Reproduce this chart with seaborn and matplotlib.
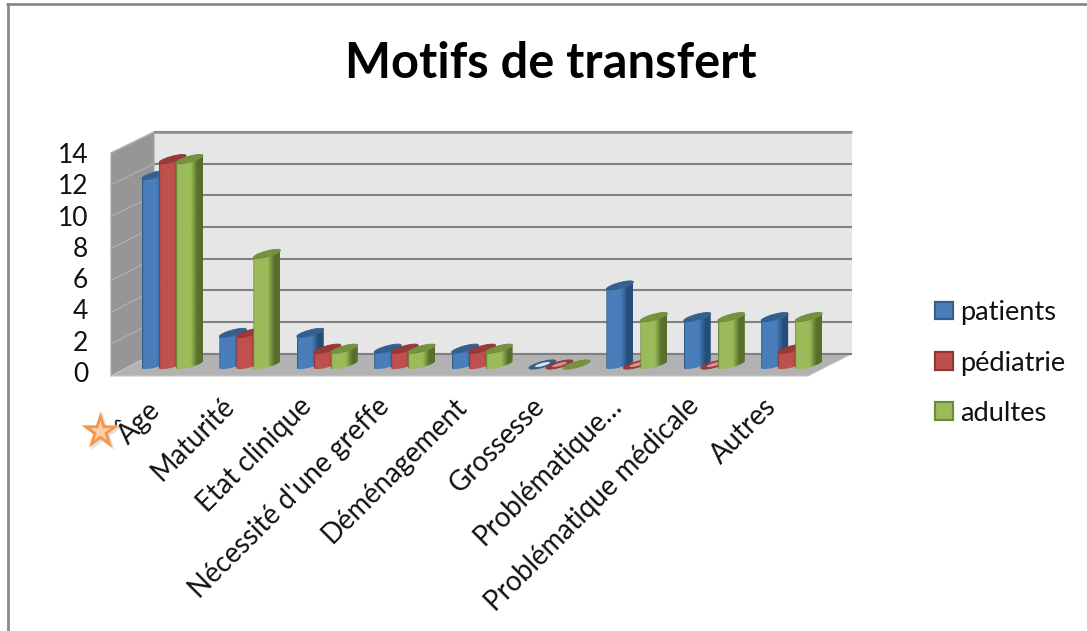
import numpy as np
import pandas as pd
import matplotlib
matplotlib.use("Agg")
import matplotlib.pyplot as plt
from matplotlib.colors import LinearSegmentedColormap
from matplotlib.patches import Polygon, Patch
from matplotlib.transforms import ScaledTranslation
import seaborn as sns

categories = ["Âge", "Maturité", "Etat clinique", "Nécessité d'une greffe", "Déménagement",
              "Grossesse", "Problématique…", "Problématique médicale", "Autres"]
patients = [12, 2, 2, 1, 1, 0, 5, 3, 3]
pediatrie = [13, 2, 1, 1, 1, 0, 0, 0, 1]
adultes = [13, 7, 1, 1, 1, 0, 3, 3, 3]
series_names = ["patients", "pédiatrie", "adultes"]
y_ticks = [0, 2, 4, 6, 8, 10, 12, 14]

W, H = 1087, 631
main_colors = ["#4a7ebb", "#c0504d", "#9bbb59"]
dark_colors = ["#264d7a", "#7e2f2d", "#566f2a"]
cap_colors = ["#33608f", "#98393a", "#76933c"]
edge_colors = ["#385d8a", "#8c3836", "#71893f"]

sns.set_theme(style="white")
plt.rcParams["font.family"] = ["Lato", "DejaVu Sans"]

fig = plt.figure(figsize=(W / 100, H / 100), dpi=100, facecolor="white")


def ax_at(left, top, right, bottom, **kw):
    return fig.add_axes([left / W, 1 - bottom / H, (right - left) / W, (bottom - top) / H], **kw)


# decoration layer, measured in image pixels
deco = ax_at(0, 0, W, H)
deco.set_xlim(0, W)
deco.set_ylim(H, 0)
deco.axis("off")
deco.plot([6, W], [4.3, 4.3], color="#858585", lw=1.9, solid_capstyle="butt")
deco.plot([7.5, 7.5], [3, H], color="#8a8a8a", lw=2.0, solid_capstyle="butt")

FL, FR, FB, FT = 111, 808, 376, 153   # front plane
BL, BR, BB, BT = 154, 852, 353.5, 132  # back plane
deco.add_patch(Polygon([(BL, BT), (BR, BT), (BR, BB), (BL, BB)], fc="#e6e6e6", ec="none"))
deco.add_patch(Polygon([(FL, FT), (BL, BT), (BL, BB), (FL, FB)], fc="#969696", ec="#a6a6a6", lw=0.8))
deco.add_patch(Polygon([(FL, FB), (BL, BB), (BR, BB), (FR, FB)], fc="#b2b2b2", ec="#c4c4c4", lw=0.8))
for v in y_ticks:
    f = v / 14
    yb = BB + (BT - BB) * f
    yf = FB + (FT - FB) * f
    deco.plot([BL, BR], [yb, yb], color="#808080", lw=1.5, solid_capstyle="butt")
    if v > 0:
        deco.plot([FL, BL], [yf, yb], color="#b0b0b0", lw=0.9)
deco.plot([BL, BR], [BT, BT], color="#8c8c8c", lw=1.8, solid_capstyle="butt")

# axis with the tick labels
ax_t = ax_at(111, 153, 808, 372)
ax_t.patch.set_alpha(0)
ax_t.set_xlim(-0.5, 8.5)
ax_t.set_ylim(0, 14)
ax_t.set_yticks(y_ticks)
ax_t.set_yticklabels([str(v) for v in y_ticks], fontsize=19, color="#111111")
ax_t.set_xticks(range(len(categories)))
ax_t.set_xticklabels(categories, rotation=45, ha="right", rotation_mode="anchor",
                     fontsize=19.8, color="#111111")
ax_t.tick_params(axis="y", length=0, pad=16.5)
ax_t.tick_params(axis="x", length=0, pad=15)
shift = ScaledTranslation(-6 / 100, 0, fig.dpi_scale_trans)
for lab in ax_t.get_xticklabels():
    lab.set_transform(lab.get_transform() + shift)
for s in ax_t.spines.values():
    s.set_visible(False)

# bars
PX_X = 77.4
PX_Y = 15.8
ax = ax_at(128.8, 368 - 14 * PX_Y, 128.8 + 9 * PX_X, 368 + PX_Y)
ax.patch.set_alpha(0)
df = pd.DataFrame({"motif": categories, "patients": patients, "pédiatrie": pediatrie, "adultes": adultes})
long_df = df.melt(id_vars="motif", var_name="série", value_name="n")
sns.barplot(data=long_df, x="motif", y="n", hue="série", hue_order=series_names,
            palette=main_colors, width=0.66, gap=0, legend=False, ax=ax, errorbar=None)
ax.set_xlim(-0.5, 8.5)
ax.set_ylim(-1, 14)
ax.axis("off")

sx, sy = 1 / PX_X, 1 / PX_Y
half_w, half_rise, minor = 13.5 * sx, 3.5 * sy, 3.0 * sy
cap_t = np.linspace(0, 2 * np.pi, 60)


def ell(cx, cy, t, scale=1.0):
    x = cx + scale * half_w * np.cos(t)
    y = cy + scale * (half_rise * np.cos(t) + minor * np.sin(t))
    return np.column_stack([x, y])


for i, container in enumerate(ax.containers):
    cmap = LinearSegmentedColormap.from_list(
        f"c{i}", [(0, dark_colors[i]), (0.05, main_colors[i]), (0.55, main_colors[i]),
                  (0.8, dark_colors[i]), (1, dark_colors[i])])
    for j, bar in enumerate(container):
        x0 = bar.get_x()
        val = bar.get_height()
        bar.set_visible(False)
        cx = x0 + half_w
        z = 3 + i + j * 0.01
        if val > 0:
            tb = np.linspace(np.pi, 2 * np.pi, 30)
            pts = np.vstack([ell(cx, half_rise, tb), ell(cx, val + half_rise, tb[::-1])])
            body = Polygon(pts, fc="none", ec="none", zorder=z)
            ax.add_patch(body)
            body.set_clip_on(False)
            im = ax.imshow(np.linspace(0, 1, 128)[None, :], cmap=cmap, aspect="auto", zorder=z,
                           extent=[x0, x0 + 2 * half_w, -1, val + 2], interpolation="bilinear")
            im.set_clip_path(body)
        cap = Polygon(ell(cx, val + half_rise, cap_t), fc=cap_colors[i], ec=edge_colors[i], lw=0.6, zorder=z + 0.1)
        cap.set_clip_on(False)
        ax.add_patch(cap)
        if val == 0 and i < 2:
            inner = Polygon(ell(cx, val + half_rise, cap_t, 0.55), fc="#d9e2ec" if i == 0 else "#d98f8d",
                            ec="none", zorder=z + 0.2)
            ax.add_patch(inner)
ax.set_xlim(-0.5, 8.5)
ax.set_ylim(-1, 14)

# legend
handles = [Patch(facecolor=main_colors[k], edgecolor=edge_colors[k], lw=1.6, label=series_names[k]) for k in range(3)]
fig.legend(handles=handles, loc="center left", bbox_to_anchor=(935 / W, 1 - 363 / H), frameon=False,
           fontsize=19.6, handlelength=0.66, handleheight=0.62, handletextpad=0.27, labelspacing=0.93,
           borderpad=0, borderaxespad=0, labelcolor="#111111")

# title
fig.text(550.5 / W, 1 - 63 / H, "Motifs de transfert", ha="center", va="center",
         fontsize=35.2, fontweight="bold", color="#000000")

# star icon
top = ax_at(0, 0, W, H)
top.set_xlim(0, W)
top.set_ylim(H, 0)
top.axis("off")
top.scatter([102], [433], marker="*", s=900, color="#777777", alpha=0.22, linewidths=0)
top.scatter([100], [431], marker="*", s=820, color="#f79646", linewidths=0)
top.scatter([100], [431], marker="*", s=240, color="#fbcfa8", linewidths=0)

fig.savefig("out.png", dpi=100)
